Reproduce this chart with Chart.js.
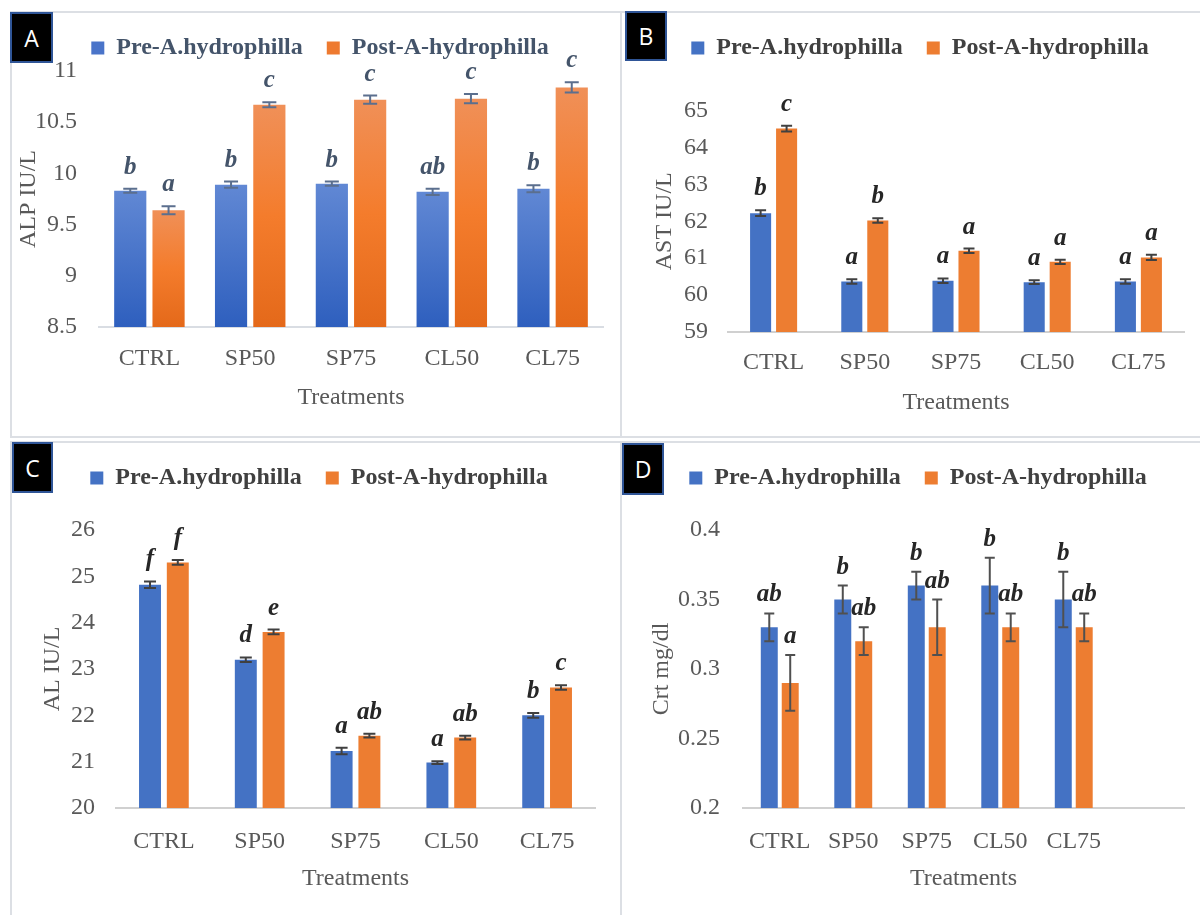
<!DOCTYPE html>
<html>
<head>
<meta charset="utf-8">
<title>Serum biochemistry before and after A. hydrophilla challenge</title>
<script src="https://cdn.jsdelivr.net/npm/chart.js@4.4.1/dist/chart.umd.min.js"></script>
<style>
  html, body { margin: 0; padding: 0; background: #fff; }
  body { position: relative; width: 1200px; height: 915px; overflow: hidden; }
  .frame { position: absolute; border: 2px solid #dcdfe4; box-sizing: border-box; }
  .tag { position: absolute; background: #000; border: 2px solid #2f5597; box-sizing: border-box;
         color: #fff; font: 23px "Open Sans", "Liberation Sans", sans-serif;
         display: flex; align-items: center; justify-content: center; }
  canvas { position: absolute; }
</style>
</head>
<body>
<div class="frame" style="left:10px;top:11px;width:612px;height:427px"></div>
<div class="frame" style="left:620px;top:11px;width:600px;height:427px"></div>
<div class="frame" style="left:10px;top:441px;width:612px;height:490px"></div>
<div class="frame" style="left:620px;top:441px;width:600px;height:490px"></div>

<canvas id="chartA"></canvas>
<canvas id="chartB"></canvas>
<canvas id="chartC"></canvas>
<canvas id="chartD"></canvas>

<div class="tag" style="left:10px;top:12px;width:43px;height:51px">A</div>
<div class="tag" style="left:625px;top:11px;width:42px;height:50px">B</div>
<div class="tag" style="left:12px;top:442px;width:41px;height:51px">C</div>
<div class="tag" style="left:622px;top:443px;width:42px;height:52px">D</div>

<script>
const treatments = ['CTRL', 'SP50', 'SP75', 'CL50', 'CL75'];
const seriesNames = ['Pre-A.hydrophilla', 'Post-A-hydrophilla'];
const xTitle = 'Treatments';

// A - ALP
const alpPre = [9.83, 9.89, 9.90, 9.82, 9.85];
const alpPost = [9.64, 10.67, 10.72, 10.73, 10.84];
const alpPreErr = [0.02, 0.03, 0.02, 0.03, 0.035];
const alpPostErr = [0.04, 0.025, 0.04, 0.045, 0.05];
const alpPreSig = ['b', 'b', 'b', 'ab', 'b'];
const alpPostSig = ['a', 'c', 'c', 'c', 'c'];

// B - AST
const astPre = [62.22, 60.37, 60.39, 60.35, 60.37];
const astPost = [64.51, 62.02, 61.20, 60.90, 61.02];
const astPreErr = [0.08, 0.06, 0.06, 0.05, 0.06];
const astPostErr = [0.08, 0.06, 0.06, 0.06, 0.07];
const astPreSig = ['b', 'a', 'a', 'a', 'a'];
const astPostSig = ['c', 'b', 'a', 'a', 'a'];

// C - AL
const alPre = [24.82, 23.20, 21.23, 20.98, 22.00];
const alPost = [25.30, 23.80, 21.56, 21.52, 22.60];
const alPreErr = [0.07, 0.05, 0.07, 0.03, 0.05];
const alPostErr = [0.05, 0.05, 0.04, 0.04, 0.05];
const alPreSig = ['f', 'd', 'a', 'a', 'b'];
const alPostSig = ['f', 'e', 'ab', 'ab', 'c'];

// D - Crt
const crtPre = [0.33, 0.35, 0.36, 0.36, 0.35];
const crtPost = [0.29, 0.32, 0.33, 0.33, 0.33];
const crtPreErr = [0.01, 0.01, 0.01, 0.02, 0.02];
const crtPostErr = [0.02, 0.01, 0.02, 0.01, 0.01];
const crtPreSig = ['ab', 'b', 'b', 'b', 'b'];
const crtPostSig = ['a', 'ab', 'ab', 'ab', 'ab'];

const SERIF = '"Liberation Serif", "Times New Roman", serif';
const BLUE = '#4472c4';
const ORANGE = '#ed7d31';

// per-bar vertical gradient (panel A)
function barGradient(stops, solid) {
    return (ctx) => {
        const chart = ctx.chart;
        const y = chart.scales && chart.scales.y;
        if (!chart.chartArea || !y || ctx.type !== 'data') return solid;
        const y0 = y.getPixelForValue(ctx.raw);
        const y1 = y.getPixelForValue(y.min);
        if (!isFinite(y0) || !isFinite(y1) || y0 === y1) return solid;
        const g = chart.ctx.createLinearGradient(0, y0, 0, y1);
        stops.forEach(s => g.addColorStop(s[0], s[1]));
        return g;
    };
}

// error bars + significance letters
const errLetters = {
    id: 'errLetters',
    afterDatasetsDraw(chart, args, opts) {
        const { ctx } = chart;
        const y = chart.scales.y;
        ctx.save();
        chart.data.datasets.forEach((ds, i) => {
            const meta = chart.getDatasetMeta(i);
            meta.data.forEach((bar, j) => {
                const v = ds.data[j];
                const e = opts.errors[i][j];
                const top = y.getPixelForValue(v + e);
                const bot = y.getPixelForValue(v - e);
                ctx.strokeStyle = opts.lineColor;
                ctx.lineWidth = 2;
                ctx.beginPath();
                ctx.moveTo(bar.x, top); ctx.lineTo(bar.x, bot);
                ctx.moveTo(bar.x - opts.cap, top); ctx.lineTo(bar.x + opts.cap, top);
                ctx.moveTo(bar.x - opts.cap, bot); ctx.lineTo(bar.x + opts.cap, bot);
                ctx.stroke();
                ctx.fillStyle = opts.letterColor;
                ctx.font = 'italic bold 25px ' + SERIF;
                ctx.textAlign = 'center';
                ctx.textBaseline = 'alphabetic';
                ctx.fillText(opts.letters[i][j], bar.x, top - opts.gap);
            });
        });
        ctx.restore();
    }
};

// let the legend take a fixed height so the plot starts where the figure has it
const legendHeight = {
    id: 'legendHeight',
    beforeUpdate(chart, args, opts) {
        const lg = chart.legend;
        if (lg && !lg._fixed) {
            const fit = lg.fit;
            lg.fit = function () { fit.call(this); this.height = opts.height; };
            lg._fixed = true;
        }
    }
};

function drawPanel(id, cfg) {
    const c = document.getElementById(id);
    const W = cfg.box.w, H = cfg.box.h;
    c.width = W; c.height = H;
    c.style.left = cfg.box.x + 'px';
    c.style.top = cfg.box.y + 'px';

    const fs = 24, lh = fs * 1.2, legPad = 24;
    const L = cfg.plot.l - cfg.box.x;
    const R = W - (cfg.plot.r - cfg.box.x);
    const T = cfg.plot.t - cfg.box.y;
    const B = cfg.plot.b - cfg.box.y;
    const padLeft = 2 * (cfg.legendX - cfg.box.x) - W + R;
    const padTop = cfg.legendY - cfg.box.y - legPad - fs / 2;
    const xBottom = cfg.xTitleY - cfg.box.y + lh / 2;

    const tickFont = { family: SERIF, size: fs };

    return new Chart(c, {
        type: 'bar',
        data: {
            labels: cfg.labels,
            datasets: [
                { label: seriesNames[0], data: cfg.pre, backgroundColor: cfg.fills[0], borderWidth: 0,
                  categoryPercentage: cfg.catPct, barPercentage: cfg.barPct },
                { label: seriesNames[1], data: cfg.post, backgroundColor: cfg.fills[1], borderWidth: 0,
                  categoryPercentage: cfg.catPct, barPercentage: cfg.barPct }
            ]
        },
        options: {
            responsive: false,
            animation: false,
            layout: { padding: { left: padLeft, right: R, top: padTop, bottom: H - xBottom } },
            scales: {
                x: {
                    grid: { display: false, drawTicks: false },
                    border: { display: true, color: cfg.axisColor, width: 2 },
                    ticks: { color: '#595959', font: tickFont, padding: cfg.xTickY - cfg.plot.b - lh / 2,
                             autoSkip: false, maxRotation: 0 },
                    title: { display: true, text: xTitle, color: '#595959', font: tickFont, padding: 0 },
                    afterFit(s) { s.height = xBottom - B; }
                },
                y: {
                    min: cfg.min, max: cfg.max,
                    grid: { display: false, drawTicks: false },
                    border: { display: false },
                    ticks: { stepSize: cfg.step, color: '#595959', font: tickFont, padding: cfg.tickGap,
                             callback: v => String(Number(v.toFixed(2))) },
                    title: { display: true, text: cfg.yTitle, color: '#595959', font: tickFont,
                             padding: { top: cfg.yTitleX - cfg.box.x - padLeft - lh / 2, bottom: 0 } },
                    afterFit(s) { s.width = L - padLeft; }
                }
            },
            plugins: {
                tooltip: { enabled: false },
                legend: {
                    position: 'top',
                    labels: {
                        boxWidth: 13, boxHeight: 13, padding: legPad,
                        color: cfg.legendColor,
                        font: { family: SERIF, size: fs, weight: 'bold' },
                        generateLabels(chart) {
                            const items = Chart.defaults.plugins.legend.labels.generateLabels(chart);
                            items.forEach((it, i) => { it.fillStyle = cfg.keyColors[i]; it.strokeStyle = cfg.keyColors[i]; it.lineWidth = 0; });
                            return items;
                        }
                    }
                },
                legendHeight: { height: T - padTop },
                errLetters: {
                    errors: [cfg.preErr, cfg.postErr],
                    letters: [cfg.preSig, cfg.postSig],
                    lineColor: cfg.errColor, letterColor: cfg.letterColor,
                    cap: cfg.cap, gap: cfg.gap
                }
            }
        },
        plugins: [legendHeight, errLetters]
    });
}

drawPanel('chartA', {
    box: { x: 10, y: 12, w: 610, h: 425 }, plot: { l: 99, r: 603, t: 71, b: 327 },
    legendX: 320, legendY: 48, xTickY: 359, xTitleY: 398, yTitleX: 29, tickGap: 22,
    labels: treatments, pre: alpPre, post: alpPost, preErr: alpPreErr, postErr: alpPostErr,
    preSig: alpPreSig, postSig: alpPostSig, yTitle: 'ALP IU/L', min: 8.5, max: 11, step: 0.5,
    catPct: 0.76, barPct: 0.84, cap: 7, gap: 15,
    fills: [barGradient([[0, '#6188d4'], [1, '#2e5fbe']], BLUE),
            barGradient([[0, '#f09058'], [0.5, '#f47c2c'], [1, '#e4691a']], ORANGE)],
    keyColors: ['#4a74c9', '#ee7a30'], legendColor: '#44546a', letterColor: '#44546a',
    errColor: '#5b6f8e', axisColor: '#d9dde3'
});

drawPanel('chartB', {
    box: { x: 622, y: 12, w: 576, h: 425 }, plot: { l: 728, r: 1184, t: 110.5, b: 332 },
    legendX: 920, legendY: 48, xTickY: 363, xTitleY: 403, yTitleX: 665, tickGap: 20,
    labels: treatments, pre: astPre, post: astPost, preErr: astPreErr, postErr: astPostErr,
    preSig: astPreSig, postSig: astPostSig, yTitle: 'AST IU/L', min: 59, max: 65, step: 1,
    catPct: 0.57, barPct: 0.81, cap: 5.5, gap: 15,
    fills: [BLUE, ORANGE], keyColors: [BLUE, ORANGE], legendColor: '#404040', letterColor: '#262626',
    errColor: '#404040', axisColor: '#d0d0d0'
});

drawPanel('chartC', {
    box: { x: 10, y: 441, w: 610, h: 474 }, plot: { l: 116, r: 595, t: 530, b: 808 },
    legendX: 319, legendY: 478, xTickY: 842, xTitleY: 879, yTitleX: 53, tickGap: 21,
    labels: treatments, pre: alPre, post: alPost, preErr: alPreErr, postErr: alPostErr,
    preSig: alPreSig, postSig: alPostSig, yTitle: 'AL IU/L', min: 20, max: 26, step: 1,
    catPct: 0.58, barPct: 0.79, cap: 6, gap: 15,
    fills: [BLUE, ORANGE], keyColors: [BLUE, ORANGE], legendColor: '#404040', letterColor: '#262626',
    errColor: '#404040', axisColor: '#d0d0d0'
});

drawPanel('chartD', {
    box: { x: 622, y: 441, w: 576, h: 474 }, plot: { l: 743, r: 1184, t: 530, b: 808 },
    legendX: 918, legendY: 478, xTickY: 842, xTitleY: 879, yTitleX: 662, tickGap: 23,
    labels: [...treatments, ''], pre: crtPre, post: crtPost, preErr: crtPreErr, postErr: crtPostErr,
    preSig: crtPreSig, postSig: crtPostSig, yTitle: 'Crt mg/dl', min: 0.2, max: 0.4, step: 0.05,
    catPct: 0.57, barPct: 0.81, cap: 5, gap: 12,
    fills: [BLUE, ORANGE], keyColors: [BLUE, ORANGE], legendColor: '#404040', letterColor: '#262626',
    errColor: '#505050', axisColor: '#d0d0d0'
});
</script>
</body>
</html>
